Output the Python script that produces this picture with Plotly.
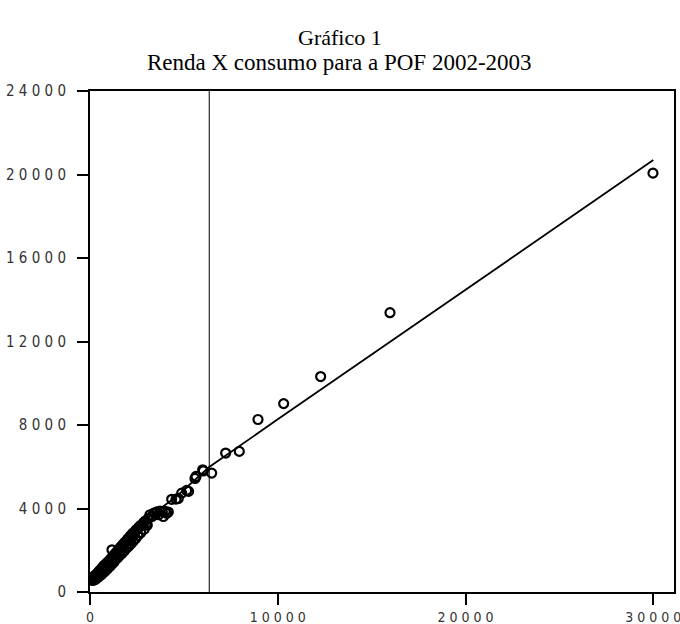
import plotly.graph_objects as go

# Renda (x) and consumo (y)
renda = [100, 130, 160, 200, 230, 260, 300, 330, 360, 400, 430, 470, 500, 540, 580,
         620, 660, 700, 740, 780, 820, 860, 900, 950, 1000, 1050, 1100, 1150, 1170,
         1200, 1260, 1320, 1380, 1440, 1500, 1560, 1620, 1680, 1740, 1800, 1860,
         1920, 1980, 2040, 2100, 2160, 2220, 2280, 2340, 2400, 2460, 2520, 2600,
         2680, 2760, 2850, 2940, 3020, 3100, 3195, 3300, 3400, 3460, 3560, 3650,
         3727, 3850, 3905, 4000, 4083, 4170, 4350, 4580, 4700, 4882, 5148, 5250,
         5591, 5645, 6000, 6035, 6480, 7224, 7950, 8946, 10312, 12283, 15975, 29980,
         120, 180, 250, 320, 390, 450, 520, 600, 680, 760, 840, 920, 1010, 1090,
         1180, 1280, 1350, 1470, 1590, 1710, 1830, 1950, 2070, 2190, 2310, 2430,
         2550, 2700, 2880, 3050]
consumo = [620, 700, 660, 740, 690, 780, 720, 820, 860, 880, 940, 900, 1010, 1040, 1020,
           1130, 1120, 1220, 1180, 1290, 1300, 1340, 1390, 1430, 1470, 1520, 1560, 1640, 2020,
           1660, 1760, 1800, 1880, 1920, 2000, 2050, 2140, 2160, 2260, 2300, 2380,
           2400, 2500, 2560, 2600, 2700, 2720, 2820, 2780, 2900, 2980, 3000, 3100,
           3180, 3200, 3320, 3400, 3300, 3520, 3700, 3620, 3780, 3776, 3840, 3700,
           3880, 3850, 3616, 3860, 3776, 3830, 4440, 4448, 4480, 4736, 4864, 4820,
           5440, 5536, 5856, 5800, 5696, 6656, 6736, 8264, 9024, 10320, 13380, 20064,
           560, 560, 600, 620, 700, 720, 800, 820, 920, 960, 1040, 1100, 1200, 1260,
           1350, 1440, 1560, 1640, 1760, 1860, 1980, 2100, 2200, 2320, 2440, 2560,
           2700, 2840, 3000, 3200]

# Fitted curve values
fit_x = [100, 1000, 2000, 3000, 4500, 6350, 10000, 20000, 30000]
fit_y = [700, 1450, 2500, 3500, 4500, 5990, 8270, 14480, 20690]

# Reference vertical line (renda média)
renda_media = 6350

x_ticks = [0, 10000, 20000, 30000]
x_ticktext = ["0", "1 0 0 0 0", "2 0 0 0 0", "3 0 0 0 0"]
y_ticks = [0, 4000, 8000, 12000, 16000, 20000, 24000]
y_ticktext = ["0", "4 0 0 0", "8 0 0 0", "1 2 0 0 0", "1 6 0 0 0", "2 0 0 0 0", "2 4 0 0 0"]

title_line1 = "Gráfico 1"
title_line2 = "Renda X consumo para a POF 2002-2003"

fig = go.Figure()

fig.add_trace(go.Scatter(
    x=[renda_media, renda_media], y=[0, 24000], mode="lines",
    line=dict(color="black", width=1), showlegend=False, hoverinfo="skip"))

fig.add_trace(go.Scatter(
    x=fit_x, y=fit_y, mode="lines",
    line=dict(color="black", width=1.8), showlegend=False))

fig.add_trace(go.Scatter(
    x=renda, y=consumo, mode="markers",
    marker=dict(symbol="circle-open", size=9, color="black",
                line=dict(color="black", width=2.2)),
    showlegend=False))

tickfont = dict(family="Liberation Sans Narrow, DejaVu Sans Condensed, Liberation Sans, Arial",
                size=15, color="#333333")
xtickfont = dict(family="Liberation Sans Narrow, DejaVu Sans Condensed, Liberation Sans, Arial",
                 size=14, color="#333333")

fig.update_layout(
    width=680, height=624,
    autosize=False,
    margin=dict(l=90, r=6, t=91, b=32),
    paper_bgcolor="white", plot_bgcolor="white",
    showlegend=False,
    xaxis=dict(range=[0, 31100], tickvals=x_ticks, ticktext=x_ticktext,
               showgrid=False, zeroline=False, showline=True, linecolor="black",
               linewidth=2, mirror=True, ticks="outside", ticklen=11, tickwidth=2,
               tickcolor="black", tickfont=xtickfont, ticklabelstandoff=0,
               ticklabeloverflow="allow", automargin=False),
    yaxis=dict(range=[0, 24000], tickvals=y_ticks, ticktext=y_ticktext,
               showgrid=False, zeroline=False, showline=True, linecolor="black",
               linewidth=2, mirror=True, ticks="outside", ticklen=11, tickwidth=2,
               tickcolor="black", tickfont=tickfont, ticklabelstandoff=8,
               ticklabeloverflow="allow", automargin=False),
    annotations=[
        dict(text=title_line1, xref="paper", yref="paper", x=0.428, y=1.106,
             xanchor="center", yanchor="middle", showarrow=False,
             font=dict(family="Liberation Serif, Times New Roman, serif", size=22, color="black")),
        dict(text=title_line2, xref="paper", yref="paper", x=0.428, y=1.056,
             xanchor="center", yanchor="middle", showarrow=False,
             font=dict(family="Liberation Serif, Times New Roman, serif", size=23, color="black")),
    ],
)

fig.write_html("out.html", config={"responsive": False, "displayModeBar": False})

# remove default page margins so the figure sits at the window's top-left corner
with open("out.html", "r", encoding="utf-8") as f:
    html = f.read()
html = html.replace("<head>", "<head><style>html,body{margin:0;padding:0;overflow:hidden;}</style>", 1)
with open("out.html", "w", encoding="utf-8") as f:
    f.write(html)
